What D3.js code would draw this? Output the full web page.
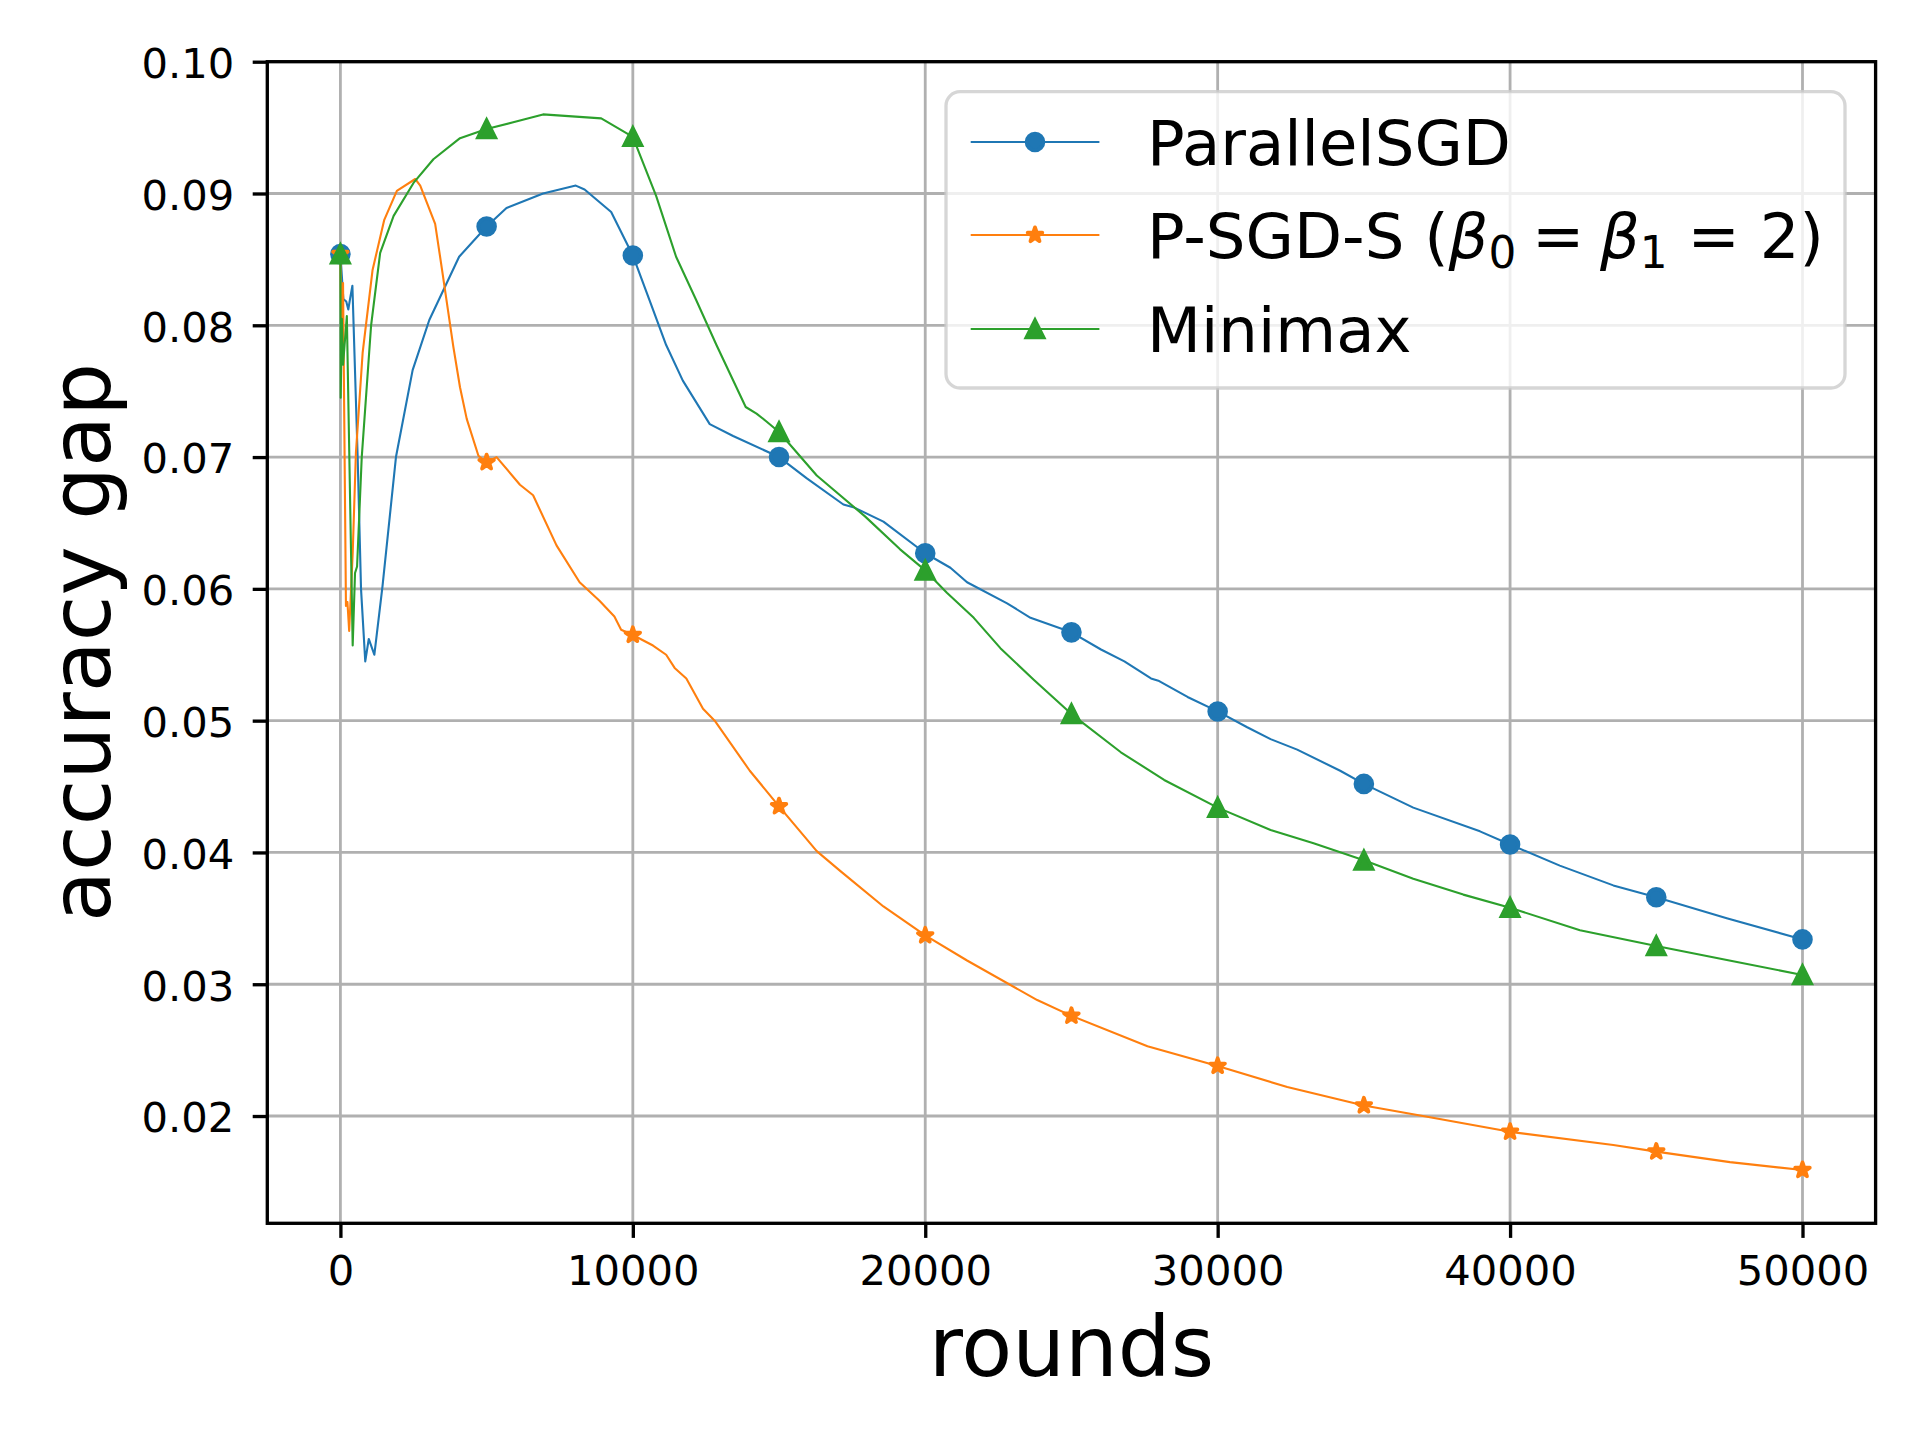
<!DOCTYPE html>
<html>
<head>
<meta charset="utf-8">
<script src="https://cdn.jsdelivr.net/npm/d3@7"></script>
<style>
  body { margin: 0; background: #fff; }
  svg { display: block; }
  text { font-family: "DejaVu Sans", sans-serif; fill: #000; }
</style>
</head>
<body>
<svg id="chart"></svg>
<script>
// values
const parallelRounds = [0,100,200,270,330,410,590,705,850,970,1160,1440,1900,2470,3040,4060,5000,5680,6930,8050,8350,9260,10000,10570,11140,11710,12630,13430,15000,15940,17200,17540,18570,20000,20860,21430,22800,23600,25000,26010,26810,27720,28000,28970,30000,31010,31810,32720,34190,35000,36690,38970,40000,41700,43530,45000,47410,50000];
const parallelGap = [0.0854,0.0820,0.0818,0.0812,0.0820,0.0830,0.0700,0.0600,0.0545,0.0562,0.0550,0.0602,0.0700,0.0766,0.0804,0.0852,0.0875,0.0889,0.0900,0.0906,0.0903,0.0886,0.0853,0.0819,0.0785,0.0758,0.0725,0.0716,0.0700,0.0684,0.0664,0.0662,0.0651,0.0627,0.0616,0.0605,0.0589,0.0578,0.0567,0.0554,0.0545,0.0532,0.0530,0.0518,0.0507,0.0495,0.0486,0.0478,0.0462,0.0452,0.0434,0.0416,0.0406,0.0390,0.0375,0.0366,0.0350,0.0334];

const psgdsRounds = [0,45,90,190,240,300,420,530,760,1100,1500,1930,2560,2730,3240,3470,3860,4090,4320,4720,5000,5340,6140,6590,7390,8180,8860,9370,9600,10000,10690,11140,11430,11830,12400,12800,14000,15000,16290,17090,18570,20000,21430,23830,25000,27600,30000,32380,35000,37260,40000,43530,45000,47520,50000];
const psgdsGap = [0.0854,0.0772,0.0832,0.0587,0.0590,0.0568,0.0627,0.0703,0.0779,0.0842,0.0880,0.0902,0.0911,0.0906,0.0877,0.0843,0.0784,0.0753,0.0729,0.0701,0.0696,0.0700,0.0679,0.0671,0.0633,0.0605,0.0591,0.0579,0.0569,0.0565,0.0557,0.0550,0.0540,0.0532,0.0509,0.0500,0.0462,0.0435,0.0401,0.0386,0.0359,0.0337,0.0318,0.0288,0.0276,0.0253,0.0238,0.0222,0.0208,0.0199,0.0188,0.0178,0.0173,0.0165,0.0159];

const minimaxRounds = [0,10,50,90,220,420,500,570,730,1050,1360,1820,2500,3180,4090,5000,5910,6930,8920,10000,10800,11480,12170,12860,13860,14230,14570,15000,16290,17940,19140,20000,20740,21660,22570,23710,25000,26690,28170,30000,31810,33280,35000,36690,38400,40000,42390,45000,47500,50000];
const minimaxGap = [0.0854,0.0745,0.0805,0.0770,0.0807,0.0557,0.0612,0.0617,0.0700,0.0800,0.0855,0.0883,0.0908,0.0926,0.0942,0.0949,0.0954,0.0960,0.0957,0.0943,0.0898,0.0852,0.0819,0.0785,0.0738,0.0733,0.0727,0.0719,0.0686,0.0655,0.0630,0.0614,0.0597,0.0578,0.0555,0.0531,0.0505,0.0476,0.0455,0.0434,0.0417,0.0407,0.0394,0.0380,0.0368,0.0358,0.0341,0.0329,0.0318,0.0307];

const xTicks = [0, 10000, 20000, 30000, 40000, 50000];
const yTicks = [0.02, 0.03, 0.04, 0.05, 0.06, 0.07, 0.08, 0.09, 0.10];
const markEvery = 5000;

const seriesNames = ['ParallelSGD', 'P-SGD-S', 'Minimax'];
const seriesColors = ['#1f77b4', '#ff7f0e', '#2ca02c'];
const seriesMarkers = ['circle', 'star', 'triangle'];

const width = 1920, height = 1440;
const svg = d3.select('#chart').attr('width', width).attr('height', height);

const x = d3.scaleLinear().domain([-2500, 52500]).range([267.3, 1875.6]);
const y = d3.scaleLinear().domain([0.01186, 0.1000]).range([1223.3, 61.7]);

const series = [
    { name: seriesNames[0], color: seriesColors[0], marker: seriesMarkers[0], pts: parallelRounds.map((r, i) => [r, parallelGap[i]]) },
    { name: seriesNames[1], color: seriesColors[1], marker: seriesMarkers[1], pts: psgdsRounds.map((r, i) => [r, psgdsGap[i]]) },
    { name: seriesNames[2], color: seriesColors[2], marker: seriesMarkers[2], pts: minimaxRounds.map((r, i) => [r, minimaxGap[i]]) }
];

// marker shapes, roughly matplotlib markersize 4 with a 1pt edge
const markerPath = (type) => {
    if (type === 'circle') return d3.symbol().type(d3.symbolCircle).size(Math.PI * 8.3 * 8.3)();
    if (type === 'star') return d3.symbol().type(d3.symbolStar).size(66)();
    const h = 8.3;
    return `M0,${-h}L${-h},${h}L${h},${h}Z`;
};
const markerStroke = { circle: 4, star: 3.8, triangle: 4 };

// grid
const grid = svg.append('g');
grid.selectAll('.gx').data(xTicks).enter().append('line')
    .attr('x1', d => x(d)).attr('x2', d => x(d))
    .attr('y1', y.range()[0]).attr('y2', y.range()[1])
    .attr('stroke', '#b0b0b0').attr('stroke-width', 2.8);
grid.selectAll('.gy').data(yTicks).enter().append('line')
    .attr('y1', d => y(d)).attr('y2', d => y(d))
    .attr('x1', x.range()[0]).attr('x2', x.range()[1])
    .attr('stroke', '#b0b0b0').attr('stroke-width', 2.8);

// curves and markers
const line = d3.line().x(d => x(d[0])).y(d => y(d[1]));
series.forEach(s => {
    const g = svg.append('g');
    g.append('path')
        .attr('d', line(s.pts))
        .attr('fill', 'none')
        .attr('stroke', s.color)
        .attr('stroke-width', 2.1)
        .attr('stroke-linejoin', 'round');
    g.selectAll('path.mk')
        .data(s.pts.filter(p => p[0] % markEvery === 0))
        .enter().append('path')
        .attr('class', 'mk')
        .attr('transform', d => `translate(${x(d[0])},${y(d[1])})`)
        .attr('d', markerPath(s.marker))
        .attr('fill', s.color)
        .attr('stroke', s.color)
        .attr('stroke-width', markerStroke[s.marker])
        .attr('stroke-linejoin', s.marker === 'star' ? 'round' : 'miter');
});

// axes
const xAxis = d3.axisBottom(x).tickValues(xTicks).tickFormat(d3.format('d'))
    .tickSize(14.6).tickSizeOuter(0).tickPadding(17.5);
const yAxis = d3.axisLeft(y).tickValues(yTicks).tickFormat(d3.format('.2f'))
    .tickSize(14.6).tickSizeOuter(0).tickPadding(18.5);

const gx = svg.append('g').attr('transform', `translate(0,${y.range()[0]})`).call(xAxis);
const gy = svg.append('g').attr('transform', `translate(${x.range()[0]},0)`).call(yAxis);
[gx, gy].forEach(g => {
    g.select('.domain').remove();
    g.selectAll('.tick line').attr('stroke', '#000').attr('stroke-width', 3.33);
    g.selectAll('.tick text').attr('font-size', 41.7).attr('font-family', '"DejaVu Sans", sans-serif').attr('fill', '#000');
});
gy.selectAll('.tick text').attr('dy', '0.38em');

// frame
svg.append('rect')
    .attr('x', x.range()[0]).attr('y', y.range()[1])
    .attr('width', x.range()[1] - x.range()[0])
    .attr('height', y.range()[0] - y.range()[1])
    .attr('fill', 'none').attr('stroke', '#000').attr('stroke-width', 3.33);

// axis labels
svg.append('text')
    .attr('x', (x.range()[0] + x.range()[1]) / 2).attr('y', 1376)
    .attr('text-anchor', 'middle').attr('font-size', 83.3)
    .text('rounds');
svg.append('text')
    .attr('transform', `translate(110,${(y.range()[0] + y.range()[1]) / 2}) rotate(-90)`)
    .attr('text-anchor', 'middle').attr('font-size', 83.3)
    .text('accuracy gap');

// legend
const legend = svg.append('g');
legend.append('rect')
    .attr('x', 946).attr('y', 91.7).attr('width', 899).attr('height', 296.3)
    .attr('rx', 14).attr('ry', 14)
    .attr('fill', '#fff').attr('fill-opacity', 0.8)
    .attr('stroke', '#cccccc').attr('stroke-opacity', 0.8).attr('stroke-width', 3.3);

const rowY = [142, 235, 329];
series.forEach((s, i) => {
    const ry = rowY[i];
    legend.append('line')
        .attr('x1', 970.7).attr('x2', 1099.4).attr('y1', ry).attr('y2', ry)
        .attr('stroke', s.color).attr('stroke-width', 2.1);
    legend.append('path')
        .attr('transform', `translate(1035,${ry})`)
        .attr('d', markerPath(s.marker))
        .attr('fill', s.color).attr('stroke', s.color)
        .attr('stroke-width', markerStroke[s.marker])
        .attr('stroke-linejoin', s.marker === 'star' ? 'round' : 'miter');
});

const fs = 62.5;
const textX = 1147;
legend.append('text').attr('x', textX).attr('y', rowY[0] + 23).attr('font-size', fs).text('ParallelSGD');
const t2 = legend.append('text').attr('x', textX).attr('y', rowY[1] + 23).attr('font-size', fs);
t2.append('tspan').text('P-SGD-S (');
t2.append('tspan').attr('font-style', 'italic').text('β');
t2.append('tspan').attr('font-size', fs * 0.7).attr('dy', 10).text('0');
t2.append('tspan').attr('dy', -10).text('\u2005=\u2005');
t2.append('tspan').attr('font-style', 'italic').text('β');
t2.append('tspan').attr('font-size', fs * 0.7).attr('dy', 10).text('1');
t2.append('tspan').attr('dy', -10).text(' = 2)');
legend.append('text').attr('x', textX).attr('y', rowY[2] + 23).attr('font-size', fs).text('Minimax');
</script>
</body>
</html>
